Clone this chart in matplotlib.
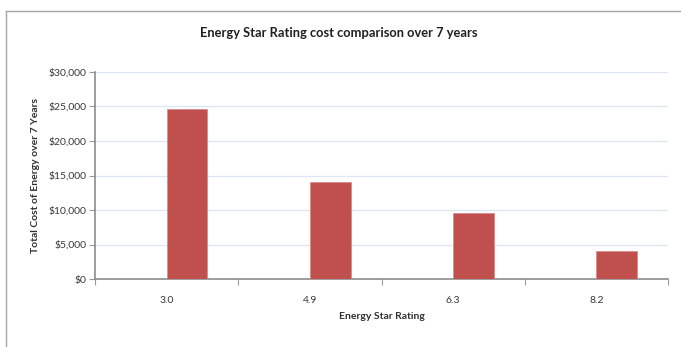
import matplotlib
matplotlib.use("Agg")
import matplotlib.pyplot as plt
from matplotlib.lines import Line2D
from matplotlib.ticker import FuncFormatter, MultipleLocator

plt.rcParams['font.family'] = ['Lato', 'DejaVu Sans']

# data
ratings = ["3.0", "4.9", "6.3", "8.2"]
cost_7yr = [24600, 14000, 9600, 4000]

fig = plt.figure(figsize=(6.81, 3.47), dpi=100)
ax = fig.add_axes([95/681, 1-279/347, (668-95)/681, (279-72)/347])

xs = list(range(len(ratings)))
# bars sit to the right of the category centre, like an excel clustered chart
ax.bar(xs, cost_7yr, width=0.285, align='edge', color='#c0504d',
       edgecolor='#d98c8a', linewidth=0.6, zorder=3)

ax.set_xlim(-0.5, len(ratings) - 0.5)
ax.set_ylim(0, 30000)
ax.yaxis.set_major_locator(MultipleLocator(5000))
ax.yaxis.set_major_formatter(FuncFormatter(lambda v, p: "${:,.0f}".format(v)))
ax.set_xticks(xs)
ax.set_xticklabels(ratings)
ax.set_xticks([x - 0.5 for x in xs] + [len(ratings) - 0.5], minor=True)
ax.tick_params(axis='x', which='major', length=0, pad=12, labelsize=7.5, colors='#383838')
ax.tick_params(axis='x', which='minor', length=4, width=0.8, color='#9a9a9a', direction='out')
ax.tick_params(axis='y', length=4, width=0.8, color='#9a9a9a', labelsize=7.5, labelcolor='#383838', pad=2)

ax.grid(axis='y', color='#dce6f4', linewidth=0.9, zorder=0)
ax.axhline(30000, color='#a9c1e6', linewidth=1.2, zorder=1)

for s in ['top', 'right']:
    ax.spines[s].set_visible(False)
for s in ['left', 'bottom']:
    ax.spines[s].set_color('#8c8c8c')
    ax.spines[s].set_linewidth(1.2)

ax.set_xlabel("Energy Star Rating", fontsize=7.5, fontweight='bold', color='#303030', labelpad=5)
ax.set_ylabel("Total Cost of Energy over 7 Years", fontsize=7.5, fontweight='bold', color='#303030', labelpad=6)
fig.text(339/681, 1-33/347, "Energy Star Rating cost comparison over 7 years",
         ha='center', va='center', fontsize=9.3, fontweight='bold', color='#202020')

# chart frame, cropped at right and bottom
fig.add_artist(Line2D([6/681, 1], [1-11/347, 1-11/347], color='#a6a6a6', linewidth=1))
fig.add_artist(Line2D([6/681, 6/681], [0, 1-11/347], color='#a6a6a6', linewidth=1))

fig.savefig("out.png", dpi=100)
